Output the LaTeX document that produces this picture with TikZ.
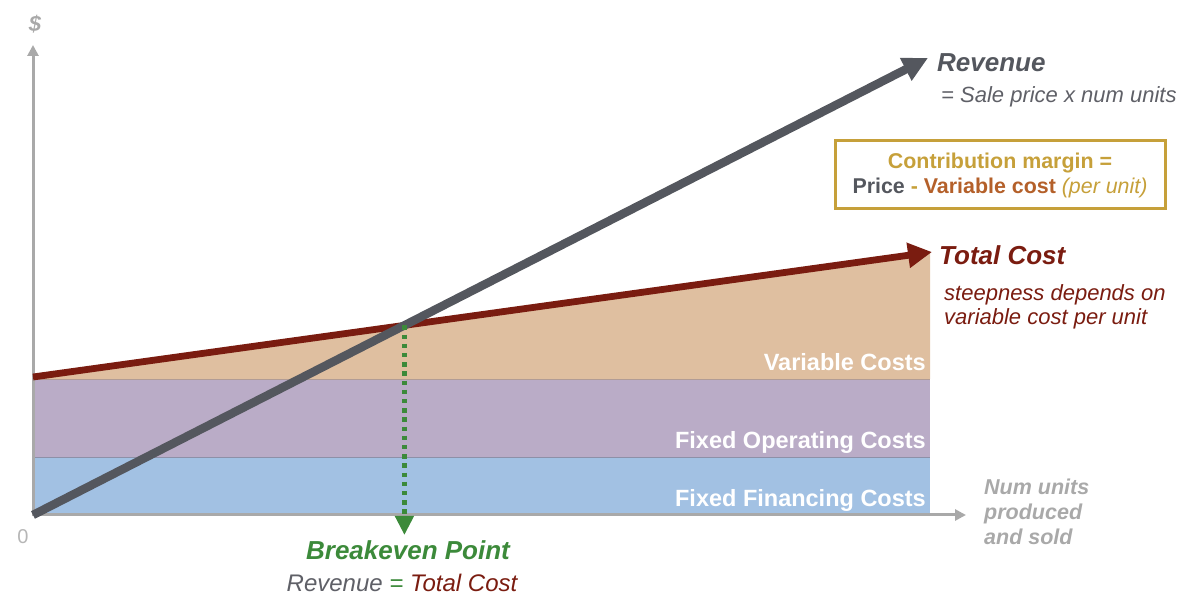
\documentclass[tikz,border=0pt]{standalone}
\usepackage{fontspec}
\setmainfont{Liberation Sans}
\usetikzlibrary{arrows.meta}

\definecolor{axisgrey}{HTML}{A9A9A9}
\definecolor{revgrey}{HTML}{54575E}
\definecolor{notegrey}{HTML}{5F6067}
\definecolor{costred}{HTML}{7A1C10}
\definecolor{vartan}{HTML}{DFBFA0}
\definecolor{oppurple}{HTML}{BAACC7}
\definecolor{finblue}{HTML}{A2C1E3}
\definecolor{bkgreen}{HTML}{3C8A3A}
\definecolor{margold}{HTML}{C6A03A}
\definecolor{varbrown}{HTML}{B4602A}

\begin{document}
\begin{tikzpicture}[x=1pt, y=1pt,
  axisline/.style={axisgrey, line width=3pt, -{Triangle[length=11pt, width=11pt]}},
  revline/.style={revgrey, line width=8.5pt, -{Triangle[length=25pt, width=24pt]}},
  costline/.style={costred, line width=6.8pt, -{Triangle[length=24pt, width=24pt]}},
  beline/.style={bkgreen, line width=4.5pt, dash pattern=on 4.5pt off 4.7pt, -{Triangle[length=19pt, width=18pt]}},
  bandlabel/.style={anchor=base east, inner sep=0pt, text=white, font=\fontsize{23.5}{28}\selectfont\bfseries},
  bigtitle/.style={anchor=base west, inner sep=0pt, font=\fontsize{26}{30}\selectfont\bfseries\itshape},
  note/.style={anchor=base west, inner sep=0pt, font=\fontsize{22}{26}\selectfont\itshape}]
  \useasboundingbox (0,0) rectangle (1184,600);

  % cost bands
  \fill[finblue] (33,85) rectangle (930,143);
  \fill[oppurple] (33,143) rectangle (930,221);
  \fill[vartan] (33,221) -- (33,223) -- (930,348) -- (930,221) -- cycle;
  \draw[line width=0.8pt, color=oppurple!60!finblue!80!black] (33,143) -- (930,143);
  \draw[line width=0.8pt, color=vartan!60!oppurple!85!black] (33,221) -- (930,221);

  \node[bandlabel] (varlbl) at (926,229) {Variable Costs};
  \node[bandlabel] (oplbl) at (926,151) {Fixed Operating Costs};
  \node[bandlabel] (finlbl) at (926,93) {Fixed Financing Costs};

  % axes
  \draw[axisline] (33,85) coordinate(o) -- (966,85) coordinate(x2);
  \draw[axisline] (33,83.5) -- (33,555) coordinate(y2);
  \node[anchor=base, inner sep=0pt, text=axisgrey, font=\fontsize{22}{26}\selectfont\bfseries\itshape] (dollar) at (35,568) {\$};
  \node[anchor=base, inner sep=0pt, text=axisgrey!85, font=\fontsize{20}{24}\selectfont] (zero) at (23,56) {0};
  \foreach \txt [count=\i] in {Num units, produced, and sold} {
    \node[anchor=base west, inner sep=0pt, text=axisgrey, font=\fontsize{21.5}{25}\selectfont\bfseries\itshape] (units\i) at (984,130-25*\i) {\txt};
  }

  % cost and revenue lines
  \draw[costline] (33,223) coordinate(c1) -- (932,348) coordinate(c2);
  \draw[revline] (o) -- (928,542) coordinate(r2);

  % breakeven
  \coordinate (be) at (intersection of o--r2 and c1--c2);
  \coordinate (bkend) at (be |- 0,65);
  \draw[beline] (be) -- (bkend);
  \node[anchor=base, inner sep=0pt, text=bkgreen, font=\fontsize{26}{30}\selectfont\bfseries\itshape] (bklbl) at (408,40) {Breakeven Point};
  \node[anchor=base, inner sep=0pt, font=\fontsize{24}{28}\selectfont\itshape] (bkeq) at (402,9)
    {\textcolor{notegrey}{Revenue} \textcolor{bkgreen}{=} \textcolor{costred}{Total Cost}};

  % labels on the right
  \node[bigtitle, text=revgrey] (revlbl) at (937,528) {Revenue};
  \node[note, text=notegrey] (revnote) at (941,497) {= Sale price x num units};

  \node[draw=margold, line width=3pt, minimum width=330pt, minimum height=68pt, inner sep=0pt,
    align=center, font=\fontsize{21.4}{25}\selectfont\bfseries] (cmbox) at (1000,425)
    {\textcolor{margold}{Contribution margin =}\\
     \textcolor{revgrey}{Price} \textcolor{margold}{-} \textcolor{varbrown}{Variable cost}
     \textcolor{margold}{\mdseries\itshape(per unit)}};

  \node[bigtitle, text=costred] (costlbl) at (939,335) {Total Cost};
  \node[note, text=costred] (costnote1) at (944,299) {steepness depends on};
  \node[note, text=costred] (costnote2) at (944,275) {variable cost per unit};
\end{tikzpicture}
\end{document}
